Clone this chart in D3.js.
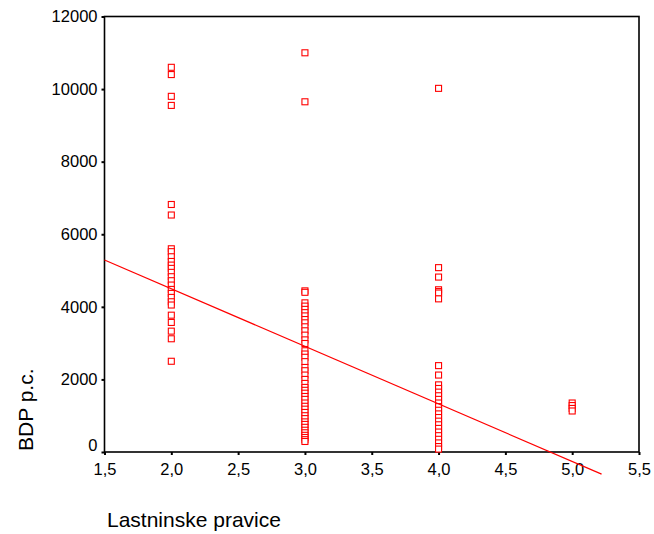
<!DOCTYPE html>
<html>
<head>
<meta charset="utf-8">
<script src="https://cdn.jsdelivr.net/npm/d3@7.9.0/dist/d3.min.js"></script>
<style>
  body { margin: 0; background: #fff; }
  svg { display: block; font-family: Arial, "Liberation Sans", sans-serif; }
  .axis text { font-size: 16.5px; fill: #000; }
  .axis path { display: none; }
  .axis line { stroke: #000; stroke-width: 2; }
</style>
</head>
<body>
<svg id="chart" width="654" height="534"></svg>
<script>
// Lastninske pravice (property rights index) -> BDP p.c. values
const bdpLevel2 = [10600, 10400, 9800, 9550, 6820, 6530, 5600, 5520, 5380, 5250, 5150, 5060,
  4950, 4830, 4720, 4600, 4480, 4370, 4260, 4140, 4050, 3770, 3570, 3330, 3120, 2500];
const bdpLevel3 = [11000, 9650, 4440, 4400, 4110, 4020, 3930, 3840, 3750, 3650, 3560, 3450,
  3340, 3220, 3090, 2990, 2790, 2700, 2610, 2490, 2330, 2240, 2120, 2000, 1890, 1780, 1700,
  1620, 1530, 1450, 1350, 1260, 1180, 1090, 1000, 920, 830, 760, 680, 600, 530, 460, 400, 340, 290];
const bdpLevel4 = [10020, 5080, 4820, 4470, 4420, 4380, 4220, 2380, 2120, 1850, 1750, 1650,
  1550, 1450, 1350, 1250, 1150, 1050, 950, 850, 750, 650, 550, 450, 350, 250, 150, 80];
const bdpLevel5 = [1350, 1280, 1200, 1130];

const levels = [2, 3, 4, 5];
const groups = [bdpLevel2, bdpLevel3, bdpLevel4, bdpLevel5];

// fitted line: BDP = intercept + slope * x, drawn from x=1.5 to x=5.22
const fitIntercept = 7669;
const fitSlope = -1586;
const fitRange = [1.5, 5.22];

const xTicks = [1.5, 2, 2.5, 3, 3.5, 4, 4.5, 5, 5.5];
const yTicks = [0, 2000, 4000, 6000, 8000, 10000, 12000];

const svg = d3.select('#chart');

const x = d3.scaleLinear().domain([1.5, 5.5]).range([104.5, 639]);
const y = d3.scaleLinear().domain([0, 12000]).range([452, 16.5]);

const fmt = d => d3.format('.1f')(d).replace('.', ',');

// plot frame
svg.append('rect')
    .attr('x', x(1.5))
    .attr('y', y(12000))
    .attr('width', x(5.5) - x(1.5))
    .attr('height', y(0) - y(12000))
    .attr('fill', 'none')
    .attr('stroke', '#000')
    .attr('stroke-width', 1.6);

// axes
const xAxis = svg.append('g')
    .attr('class', 'axis')
    .attr('transform', `translate(0,${y(0)})`)
    .call(d3.axisBottom(x).tickValues(xTicks).tickFormat(fmt).tickSize(3).tickPadding(8));

const yAxis = svg.append('g')
    .attr('class', 'axis')
    .attr('transform', `translate(${x(1.5)},0)`)
    .call(d3.axisLeft(y).tickValues(yTicks).tickFormat(d3.format('d')).tickSize(3).tickPadding(4));

// lowest label sits a bit above its tick
yAxis.selectAll('.tick')
    .filter(d => d === 0)
    .select('text')
    .attr('y', -7);

// points
const points = [];
groups.forEach((vals, i) => vals.forEach(v => points.push({ level: levels[i], bdp: v })));

const size = 6;
svg.append('g')
    .selectAll('rect')
    .data(points)
    .join('rect')
    .attr('x', d => x(d.level) - size / 2)
    .attr('y', d => y(d.bdp) - size / 2)
    .attr('width', size)
    .attr('height', size)
    .attr('fill', '#fff')
    .attr('stroke', '#ff0000')
    .attr('stroke-width', 1.1);

// regression line
const line = d3.line()
    .x(d => x(d))
    .y(d => y(fitIntercept + fitSlope * d));

svg.append('path')
    .datum(fitRange)
    .attr('d', line)
    .attr('fill', 'none')
    .attr('stroke', '#ff0000')
    .attr('stroke-width', 1.2);

// axis titles
svg.append('text')
    .attr('x', 107)
    .attr('y', 527)
    .attr('font-size', 21)
    .text('Lastninske pravice');

svg.append('text')
    .attr('transform', 'translate(33,451) rotate(-90)')
    .attr('font-size', 21)
    .text('BDP p.c.');
</script>
</body>
</html>
